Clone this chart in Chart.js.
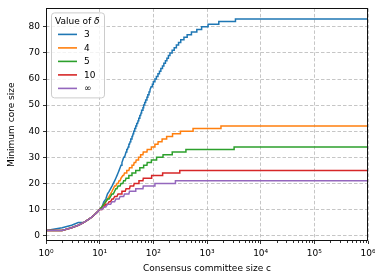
<!DOCTYPE html>
<html><head><meta charset="utf-8">
<script src="https://cdn.jsdelivr.net/npm/chart.js@4"></script>
<style>html,body{margin:0;padding:0;background:#fff}canvas{display:block}</style>
</head><body>
<canvas id="c" width="375" height="280"></canvas>
<script>
// ---- data ----
const seriesLabels = ['3', '4', '5', '10', '∞'];
const seriesColors = ['#1f77b4', '#ff7f0e', '#2ca02c', '#d62728', '#9467bd'];

// committee size c at which each core-size level is first reached, and that level
const d3Start = [1,2,3,4,6,7,8,9,10,11,12,13,14,15,16,17,18,19,20,21,22,23,24,25,26,27,28,30,31,32,34,35,37,38,40,42,43,45,47,49,52,54,56,59,61,64,66,69,72,76,79,83,87,91,96,100,107,114,122,130,138,148,157,168,179,191,204,224,245,269,295,324,372,427,513,646,794,1047,1660,3390];
const d3Core  = [2,3,4,5,6,7,8,9,10,11,13,14,16,17,18,19,20,21,22,23,24,25,26,27,28,29,30,31,32,33,34,35,36,37,38,39,40,41,42,43,44,45,46,47,48,49,50,51,52,53,54,55,56,57,58,59,60,61,62,63,64,65,66,67,68,69,70,71,72,73,74,75,76,77,78,79,80,81,82,83];

const d4Start = [1,3,4,5,6,7,8,9,10,11,12,13,14,15,16,17,18,19,21,23,25,27,29,32,36,40,44,48,53,58,65,77,92,107,123,146,177,228,320,550,1820];
const d4Core  = [2,3,4,5,6,7,8,9,10,11,12,13,14,15,16,17,18,19,20,21,22,23,24,25,26,27,28,29,30,31,32,33,34,35,36,37,38,39,40,41,42];

const d5Start = [1,3,4,5,6,7,8,9,10,11,12,13,14,16,17,19,20,22,25,28,31,35,40,47,56,66,77,92,115,152,225,405,3200];
const d5Core  = [2,3,4,5,6,7,8,9,10,11,12,13,14,15,16,17,18,19,20,21,22,23,24,25,26,27,28,29,30,31,32,33,34];

const d10Start = [1,3,4,5,6,7,8,9,10,12,13,15,17,19,22,26,31,37,44,54,65,93,149,311];
const d10Core  = [2,3,4,5,6,7,8,9,10,11,12,13,14,15,16,17,18,19,20,21,22,23,24,25];

const dInfStart = [1,3,4,5,6,7,8,9,10,12,14,17,20,24,29,36,47,65,107,258];
const dInfCore  = [2,3,4,5,6,7,8,9,10,11,12,13,14,15,16,17,18,19,20,21];

const cMax = 1e6;
const xTickValues = [1, 10, 100, 1000, 10000, 100000, 1000000];
const xTickLabels = ['10⁰', '10¹', '10²', '10³', '10⁴', '10⁵', '10⁶'];
const yTickValues = [0, 10, 20, 30, 40, 50, 60, 70, 80];
const xTitle = 'Consensus committee size c';
const yTitle = 'Minimum core size';
const legendTitle = 'Value of ';
const legendSymbol = 'δ';

// ---- build integer-c polylines from the step tables ----
function buildPoints(starts, cores) {
  const pts = [];
  for (let k = 0; k < starts.length; k++) {
    pts.push({x: starts[k], y: cores[k]});
    const end = (k + 1 < starts.length) ? starts[k + 1] - 1 : cMax;
    if (end > starts[k]) pts.push({x: end, y: cores[k]});
  }
  return pts;
}
const tables = [[d3Start, d3Core], [d4Start, d4Core], [d5Start, d5Core], [d10Start, d10Core], [dInfStart, dInfCore]];

const FONT = 'DejaVu Sans';
const isMajor = v => Math.abs(Math.log10(v) - Math.round(Math.log10(v))) < 1e-9;
const minorTicks = [];
for (let e = 0; e < 6; e++) for (let m = 1; m <= 9; m++) minorTicks.push(m * Math.pow(10, e));
minorTicks.push(cMax);

const decorPlugin = {
  id: 'decor',
  afterDraw(chart) {
    const {ctx, chartArea: a, scales} = chart;
    const xs = scales.x;
    ctx.save();
    ctx.strokeStyle = '#000';
    ctx.lineWidth = 0.8;
    // minor ticks
    xs.ticks.forEach(t => {
      if (!isMajor(t.value)) {
        const px = Math.round(xs.getPixelForValue(t.value)) + 0.5;
        ctx.beginPath(); ctx.moveTo(px, a.bottom); ctx.lineTo(px, a.bottom + 2); ctx.stroke();
      }
    });
    // frame
    ctx.lineWidth = 1;
    ctx.strokeStyle = '#111';
    ctx.strokeRect(Math.round(a.left) + 0.5, Math.round(a.top) + 0.5,
                   Math.round(a.right) - Math.round(a.left) - 1, Math.round(a.bottom) - Math.round(a.top) - 1);
    // legend
    const lx = a.left + 5, ly = a.top + 4, lw = 53, lh = 85;
    ctx.beginPath();
    ctx.roundRect(lx + 0.5, ly + 0.5, lw, lh, 3);
    ctx.fillStyle = 'rgba(255,255,255,0.8)';
    ctx.fill();
    ctx.strokeStyle = '#cccccc';
    ctx.lineWidth = 1;
    ctx.stroke();
    ctx.fillStyle = '#000';
    ctx.textBaseline = 'middle';
    ctx.textAlign = 'left';
    ctx.font = '9px "' + FONT + '"';
    ctx.fillText(legendTitle, lx + 4, ly + 9);
    const w = ctx.measureText(legendTitle).width;
    ctx.font = 'italic 9px "' + FONT + '"';
    ctx.fillText(legendSymbol, lx + 4 + w, ly + 9);
    ctx.font = '9px "' + FONT + '"';
    chart.data.datasets.forEach((ds, i) => {
      const y = ly + 22 + i * 13.5;
      ctx.strokeStyle = ds.borderColor;
      ctx.lineWidth = 1.6;
      ctx.beginPath(); ctx.moveTo(lx + 7, y); ctx.lineTo(lx + 26, y); ctx.stroke();
      ctx.fillText(ds.label, lx + 33, y + 0.5);
    });
    ctx.restore();
  }
};

new Chart(document.getElementById('c'), {
  type: 'line',
  data: {
    datasets: tables.map((t, i) => ({
      label: seriesLabels[i],
      data: buildPoints(t[0], t[1]),
      borderColor: seriesColors[i],
      backgroundColor: seriesColors[i],
      borderWidth: 1.5,
      pointRadius: 0,
      tension: 0,
      fill: false,
      order: tables.length - 1 - i
    }))
  },
  options: {
    responsive: false,
    animation: false,
    devicePixelRatio: 1,
    layout: {padding: {top: 2, right: 7, left: 0, bottom: 0}},
    plugins: {legend: {display: false}, tooltip: {enabled: false}},
    scales: {
      x: {
        type: 'logarithmic',
        min: 1, max: cMax,
        afterBuildTicks: s => { s.ticks = minorTicks.map(v => ({value: v})); },
        afterFit: s => { s.height = 39; s.paddingLeft = 0; s.paddingRight = 0; },
        ticks: {
          autoSkip: false, maxRotation: 0, padding: 4,
          color: '#000', font: {family: FONT, size: 9},
          callback: v => { const k = xTickValues.findIndex(t => Math.abs(t - v) < 1e-6 * t); return k >= 0 ? xTickLabels[k] : ''; }
        },
        grid: {
          color: c => (c.tick && isMajor(c.tick.value)) ? '#b8b8b8' : 'rgba(0,0,0,0)',
          lineWidth: 0.8,
          tickLength: 3,
          tickColor: c => (c.tick && isMajor(c.tick.value)) ? '#000' : 'rgba(0,0,0,0)',
          tickWidth: 0.8
        },
        border: {display: false, dash: [3.5, 2]},
        title: {display: true, text: xTitle, color: '#000', font: {family: FONT, size: 9}, padding: {top: 0, bottom: 6}}
      },
      y: {
        type: 'linear',
        min: -2.05, max: 87.05,
        afterBuildTicks: s => { s.ticks = yTickValues.map(v => ({value: v})); },
        afterFit: s => { s.width = 46; },
        ticks: {padding: 3, color: '#000', font: {family: FONT, size: 9}},
        grid: {color: '#b8b8b8', lineWidth: 0.8, tickLength: 3, tickColor: '#000', tickWidth: 0.8},
        border: {display: false, dash: [3.5, 2]},
        title: {display: true, text: yTitle, color: '#000', font: {family: FONT, size: 9}, padding: {top: 6, bottom: 0}}
      }
    }
  },
  plugins: [decorPlugin]
});
</script>
</body></html>
